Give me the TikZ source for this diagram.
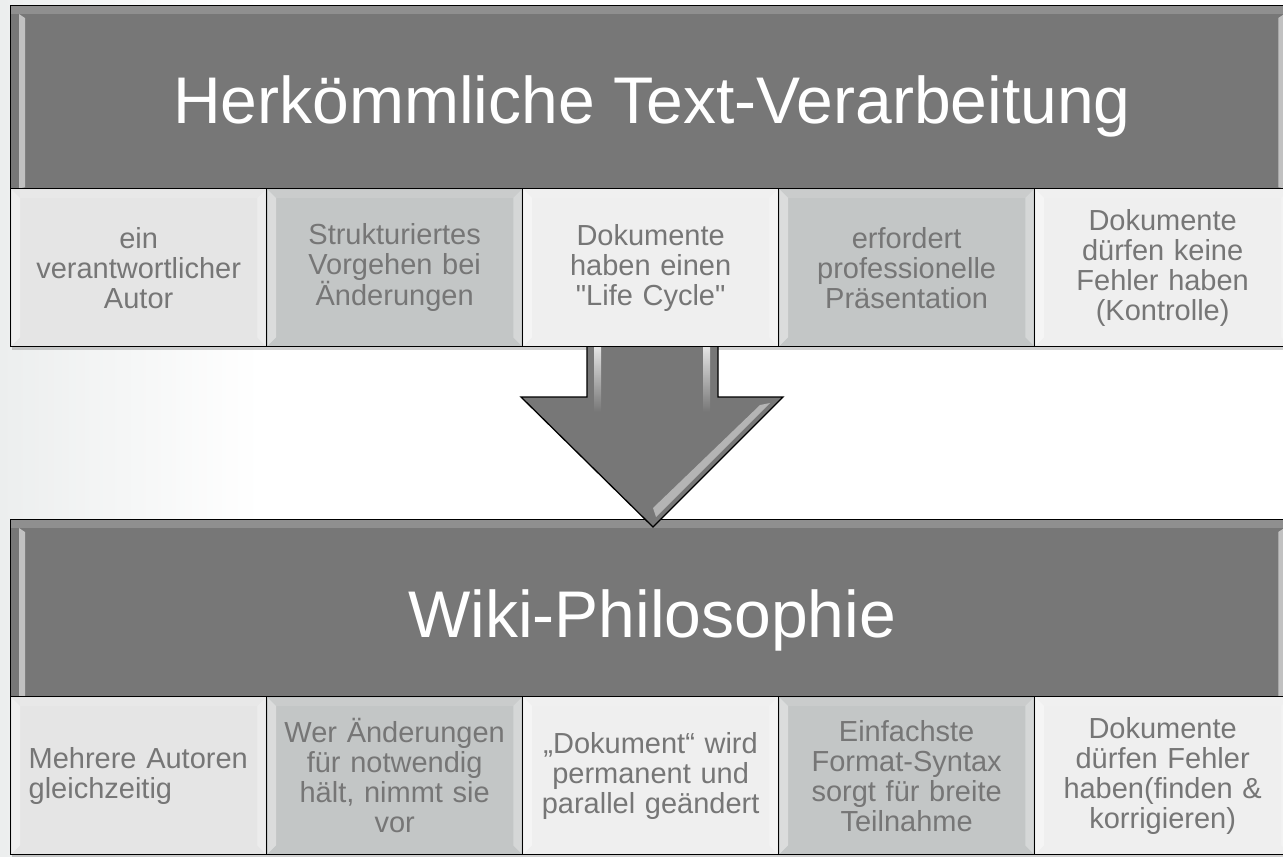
\documentclass[tikz,border=0pt]{standalone}
\usepackage{fontspec}
\setmainfont{Liberation Sans}
\newfontfamily\plainq{Liberation Sans}[Ligatures=ResetAll]
\usetikzlibrary{calc}
\definecolor{hdr}{HTML}{777777}
\definecolor{cellA}{HTML}{E5E5E5}
\definecolor{cellB}{HTML}{C3C6C6}
\definecolor{cellC}{HTML}{EFEFEF}
\definecolor{txtc}{HTML}{767676}
\definecolor{bgl}{HTML}{ECEEEE}
\newcommand\mybev[1]{%
  \fill[bevl] ($(#1.north west)+(2,2)$) -- ($(#1.north west)+(10,10)$) -- ($(#1.south west)+(10,-10)$) -- ($(#1.south west)+(2,-2)$) -- cycle;
  \fill[bevr] ($(#1.north east)+(-2,2)$) -- ($(#1.north east)+(-10,10)$) -- ($(#1.south east)+(-10,-10)$) -- ($(#1.south east)+(-2,-2)$) -- cycle;
  \fill[bevt] ($(#1.north west)+(2,2)$) -- ($(#1.north west)+(10,10)$) -- ($(#1.north east)+(-10,10)$) -- ($(#1.north east)+(-2,2)$) -- cycle;}
\newcommand\myhbev[1]{%
  \fill[hbevt] ($(#1.north west)+(1,1)$) rectangle ($(#1.north east)+(-1,9)$);
  \fill[hbevl] ($(#1.north west)+(9,9)$) -- ($(#1.north west)+(15,13)$) -- ($(#1.south west)+(15,-2)$) -- ($(#1.south west)+(9,-1)$) -- cycle;
  \fill[hbevl] ($(#1.north east)+(-9,9)$) -- ($(#1.north east)+(-15,13)$) -- ($(#1.south east)+(-15,-2)$) -- ($(#1.south east)+(-9,-1)$) -- cycle;}
\begin{document}
\begin{tikzpicture}[x=1pt,y=-1pt,
  hdrbox/.style={draw=black, line width=1.3pt, fill=hdr, minimum width=1282pt, minimum height=183pt, inner sep=0pt, anchor=north west},
  cellbox/.style={draw=black, line width=1.3pt, minimum width=256pt, minimum height=158pt, inner sep=0pt, anchor=north west,
     text=txtc, font=\fontsize{29}{30}\selectfont, align=center, text width=236pt},
  title/.style={text=white, font=\fontsize{66}{76}\selectfont, anchor=base, inner sep=0pt},
  bevl/.style={fill=white, opacity=0.4},
  bevr/.style={fill=white, opacity=0.3},
  bevt/.style={fill=white, opacity=0.12},
  hbevt/.style={fill=white, opacity=0.18},
  hbevl/.style={fill=white, opacity=0.55},
  shadowc/.style={fill=black, opacity=0.18},
  arrowshape/.style={draw=black, line width=1.3pt, fill=hdr, line join=miter},
  glint/.style={fill=white, opacity=0.45}]
\clip (0,0) rectangle (1283,857);
\useasboundingbox (0,0) rectangle (1283,857);
% background
\fill[white] (0,0) rectangle (1283,857);
\shade[left color=bgl, right color=white] (0,0) rectangle (260,857);
% shadows
\fill[shadowc] (12,8) rectangle (1295,350);
\fill[shadowc] (12,522) rectangle (1295,858);
% ---- bottom group ----
\node[hdrbox] (h2) at (10,519) {};
\myhbev{h2}
\node[title] (t2) at (652,637) {Wiki-Philosophie};
\node[cellbox, fill=cellA, align=left, text width=220pt] (d1) at (10,696) {Mehrere Autoren\\gleichzeitig};
\node[cellbox, fill=cellB] (d2) at (266,696) {Wer Änderungen\\für notwendig\\hält, nimmt sie\\vor};
\node[cellbox, fill=cellC] (d3) at (522,696) {„Dokument“ wird\\permanent und\\parallel geändert};
\node[cellbox, fill=cellB] (d4) at (778,696) {Einfachste\\Format-Syntax\\sorgt für breite\\Teilnahme};
\node[cellbox, fill=cellC] (d5) at (1034,696) {Dokumente\\dürfen Fehler\\haben(finden \&\\korrigieren)};
\foreach \n in {d1,d2,d3,d4,d5} {\mybev{\n}}
% ---- arrow ----
\coordinate (a1) at (587,340);
\coordinate (a2) at (587,397);
\coordinate (a3) at (521,397);
\coordinate (a4) at (653,527);
\coordinate (a5) at (783,397);
\coordinate (a6) at (718,397);
\coordinate (a7) at (718,340);
\draw[arrowshape] (a1) -- (a2) -- (a3) -- (a4) -- (a5) -- (a6) -- (a7);
\shade[top color=white, bottom color=hdr, opacity=0.8] (594,347) rectangle (601,412);
\shade[top color=white, bottom color=hdr, opacity=0.8] (703,347) rectangle (710,412);
\fill[glint] (770,403) -- (656,517) -- (653,508) -- (760,405) -- cycle;
% ---- top group ----
\node[hdrbox] (h1) at (10,5) {};
\myhbev{h1}
\node[title] (t1) at (652,123) {Herkömmliche Text-Verarbeitung};
\node[cellbox, fill=cellA] (c1) at (10,188) {ein\\verantwortlicher\\Autor};
\node[cellbox, fill=cellB] (c2) at (266,188) {Strukturiertes\\Vorgehen bei\\Änderungen};
\node[cellbox, fill=cellC] (c3) at (522,188) {Dokumente\\haben einen\\{\plainq "Life Cycle"}};
\node[cellbox, fill=cellB] (c4) at (778,188) {erfordert\\professionelle\\Präsentation};
\node[cellbox, fill=cellC] (c5) at (1034,188) {Dokumente\\dürfen keine\\Fehler haben\\(Kontrolle)};
\foreach \n in {c1,c2,c3,c4,c5} {\mybev{\n}}
\end{tikzpicture}
\end{document}
